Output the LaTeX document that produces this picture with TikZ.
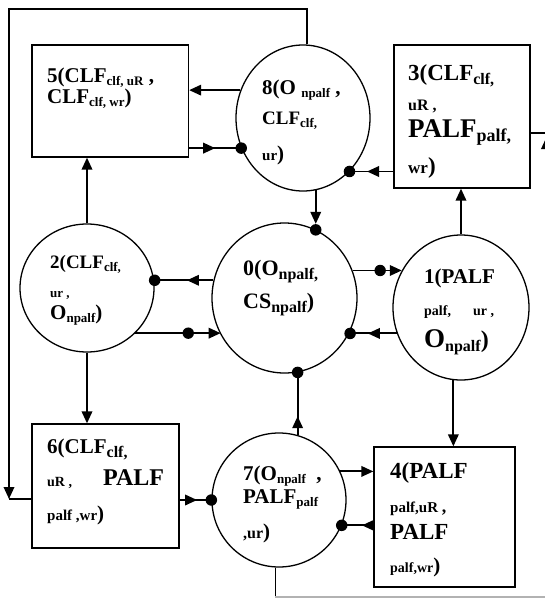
\documentclass[tikz,border=0pt]{standalone}
\usepackage{fontspec}
\setmainfont{Liberation Serif}
\usetikzlibrary{arrows.meta,decorations.markings,shapes.geometric}
\newcommand\fsz[1]{\fontsize{#1}{#1}\selectfont}
\newcommand\sbx[1]{\raisebox{-3.5pt}{\fsz{13}#1}}
\newcommand\sbl[1]{\raisebox{-4pt}{\fsz{16}#1}}
\newcommand\sbh[1]{\raisebox{-4.5pt}{\fsz{18}#1}}
\begin{document}
\begin{tikzpicture}[x=1pt,y=-1pt,
  >={Triangle[length=12pt,width=10.5pt]},
  shp/.style={draw, line width=1.3pt, inner sep=0pt},
  circ/.style={shp, ellipse},
  bx/.style={shp, rectangle},
  conn/.style={line width=1.9pt},
  txt/.style={anchor=base west, inner sep=0pt, font=\bfseries\fsz{21}},
  midarr/.style={postaction={decorate}, decoration={markings, mark=at position #1 with {\arrow{>}}}},
  middot/.style={postaction={decorate}, decoration={markings, mark=at position #1 with {\fill (0,0) circle (5.7pt);}}},
  jdot/.style={circle, fill, inner sep=0pt, minimum size=11.5pt}
]
\useasboundingbox (0,0) rectangle (545,598);
% shapes
\node[circ, minimum width=134pt, minimum height=146pt] (c8) at (303,118) {};
\node[circ, minimum width=134pt, minimum height=128pt] (c2) at (87,288) {};
\node[circ, minimum width=145pt, minimum height=150pt] (c0) at (284.5,298) {};
\node[circ, minimum width=136pt, minimum height=145pt] (c1) at (461,307.5) {};
\node[circ, minimum width=134pt, minimum height=134pt] (c7) at (279,500) {};
\node[bx, minimum width=156.5pt, minimum height=112pt] (b5) at (110.25,101) {};
\node[bx, minimum width=136pt, minimum height=143pt] (b3) at (462,116.5) {};
\node[bx, minimum width=147pt, minimum height=124pt] (b6) at (105.5,486) {};
\node[bx, minimum width=141pt, minimum height=140pt] (b4) at (444.5,517) {};
% connectors
\draw[conn,->] (c8.156) -- (c8.156 -| b5.east);
\draw[conn,midarr=0.5] (c8.206 -| b5.east) -- (c8.206);
\node[jdot] (d1) at (c8.206) {};
\draw[conn,midarr=0.6] (c8.311 -| b3.west) -- (c8.311);
\node[jdot] (d2) at (c8.311) {};
\draw[conn,->,shorten >=6pt] (c8.280) -- (c8.280 |- c0.65);
\node[jdot] (d3) at (c8.280 |- c0.65) {};
\draw[conn,midarr=0.45] (c0.166) -- (c0.166 -| c2.east);
\node[jdot] (d4) at (c0.166 -| c2.east) {};
\draw[conn,->,middot=0.62] (c2.317) -- (c2.317 -| c0.210);
\draw[conn,->,middot=0.56] (c0.22) -- (c0.22 -| c1.148);
\draw[conn,midarr=0.62] (c1.202) -- (c1.202 -| c0.333);
\node[jdot] (d5) at (c1.202 -| c0.333) {};
\draw[conn,midarr=0.3] (c7.74) -- (c7.74 |- c0.280);
\node[jdot] (d6) at (c7.74 |- c0.280) {};
\draw[conn,midarr=0.55] (c7.west -| b6.east) -- (c7.west);
\node[jdot] (d7) at (c7.west) {};
\draw[conn,->] (c7.25) -- (c7.25 -| b4.west);
\draw[conn,midarr=0.36] (c7.338 -| b4.west) -- (c7.338);
\node[jdot] (d8) at (c7.338) {};
\draw[conn,->] (c2.north) -- (c2.north |- b5.south);
\draw[conn,->] (c2.south) -- (c2.south |- b6.north);
\draw[conn,->] (c1.north) -- (c1.north |- b3.south);
\draw[conn,->] (c1.264) -- (c1.264 |- b4.north);
\coordinate (tl) at (9,9);
\coordinate (bl) at (9,499);
\draw[conn,->] (c8.87) |- (tl) -- (bl);
\draw[conn] (bl) -- (bl -| b6.west);
\coordinate (r1) at (550,133);
\draw[conn] (r1 -| b3.east) -- (r1);
\coordinate (r2) at (546.5,165);
\coordinate (r3) at (546.5,137);
\draw[conn,->] (r2) -- (r3);
\coordinate (br) at (550,597);
\draw[conn] (c7.267) -- (c7.267 |- br);
\draw[conn,gray!60] (c7.267 |- br) -- (br);
% texts
\node[txt] (t5a) at (47,82) {5(CLF\sbx{clf,\ uR}\ ,};
\node[txt] (t5b) at (47,103) {CLF\sbx{clf, wr})};
\node[txt] (t8a) at (262,94) {8(O\ \sbx{npalf}\ ,};
\node[txt,font=\bfseries\fsz{19}] (t8b) at (262,124) {CLF\sbx{clf,}};
\node[txt] (t8c) at (262,160) {{\fsz{15}ur})};
\node[txt,font=\bfseries\fsz{23}] (t3a) at (408,80) {3(CLF\sbl{clf,}};
\node[txt,font=\bfseries\fsz{16}] (t3b) at (408,110) {uR ,};
\node[txt,font=\bfseries\fsz{27}] (t3c) at (408,137) {PALF\sbh{palf,}};
\node[txt,font=\bfseries\fsz{23}] (t3d) at (408,173) {{\fsz{17}wr})};
\node[txt,font=\bfseries\fsz{19}] (t2a) at (50,268) {2(CLF\sbx{clf,}};
\node[txt,font=\bfseries\fsz{13}] (t2b) at (50,297) {ur ,};
\node[txt] (t2c) at (50,319) {O\sbx{npalf})};
\node[txt,font=\bfseries\fsz{22}] (t0a) at (243,275) {0(O\sbl{npalf,}};
\node[txt,font=\bfseries\fsz{22}] (t0b) at (243,308) {CS\sbl{npalf})};
\node[txt] (t1a) at (424,283) {1(PALF};
\node[txt,font=\bfseries\fsz{14}] (t1b) at (424,315) {palf,};
\node[txt,font=\bfseries\fsz{14}] (t1c) at (473,315) {ur ,};
\node[txt,font=\bfseries\fsz{24}] (t1d) at (424,347) {{\fsz{27}O}\sbl{npalf})};
\node[txt] (t6a) at (47,453) {6(CLF\sbl{clf,}};
\node[txt,font=\bfseries\fsz{14}] (t6b) at (47,486) {uR ,};
\node[txt,font=\bfseries\fsz{24}] (t6c) at (103,485) {PALF};
\node[txt] (t6d) at (47,520) {{\fsz{15}palf ,wr})};
\node[txt] (t7a) at (243,480) {7(O\sbx{npalf}\ \ ,};
\node[txt] (t7b) at (243,503) {PALF\sbx{palf}};
\node[txt] (t7c) at (243,538) {{\fsz{16},ur})};
\node[txt,font=\bfseries\fsz{23}] (t4a) at (390,478) {4(PALF};
\node[txt,font=\bfseries\fsz{15}] (t4b) at (390,512) {palf,uR {\fsz{18},}};
\node[txt,font=\bfseries\fsz{23}] (t4c) at (390,539) {PALF};
\node[txt] (t4d) at (390,572) {{\fsz{14}palf,wr})};
\end{tikzpicture}
\end{document}
